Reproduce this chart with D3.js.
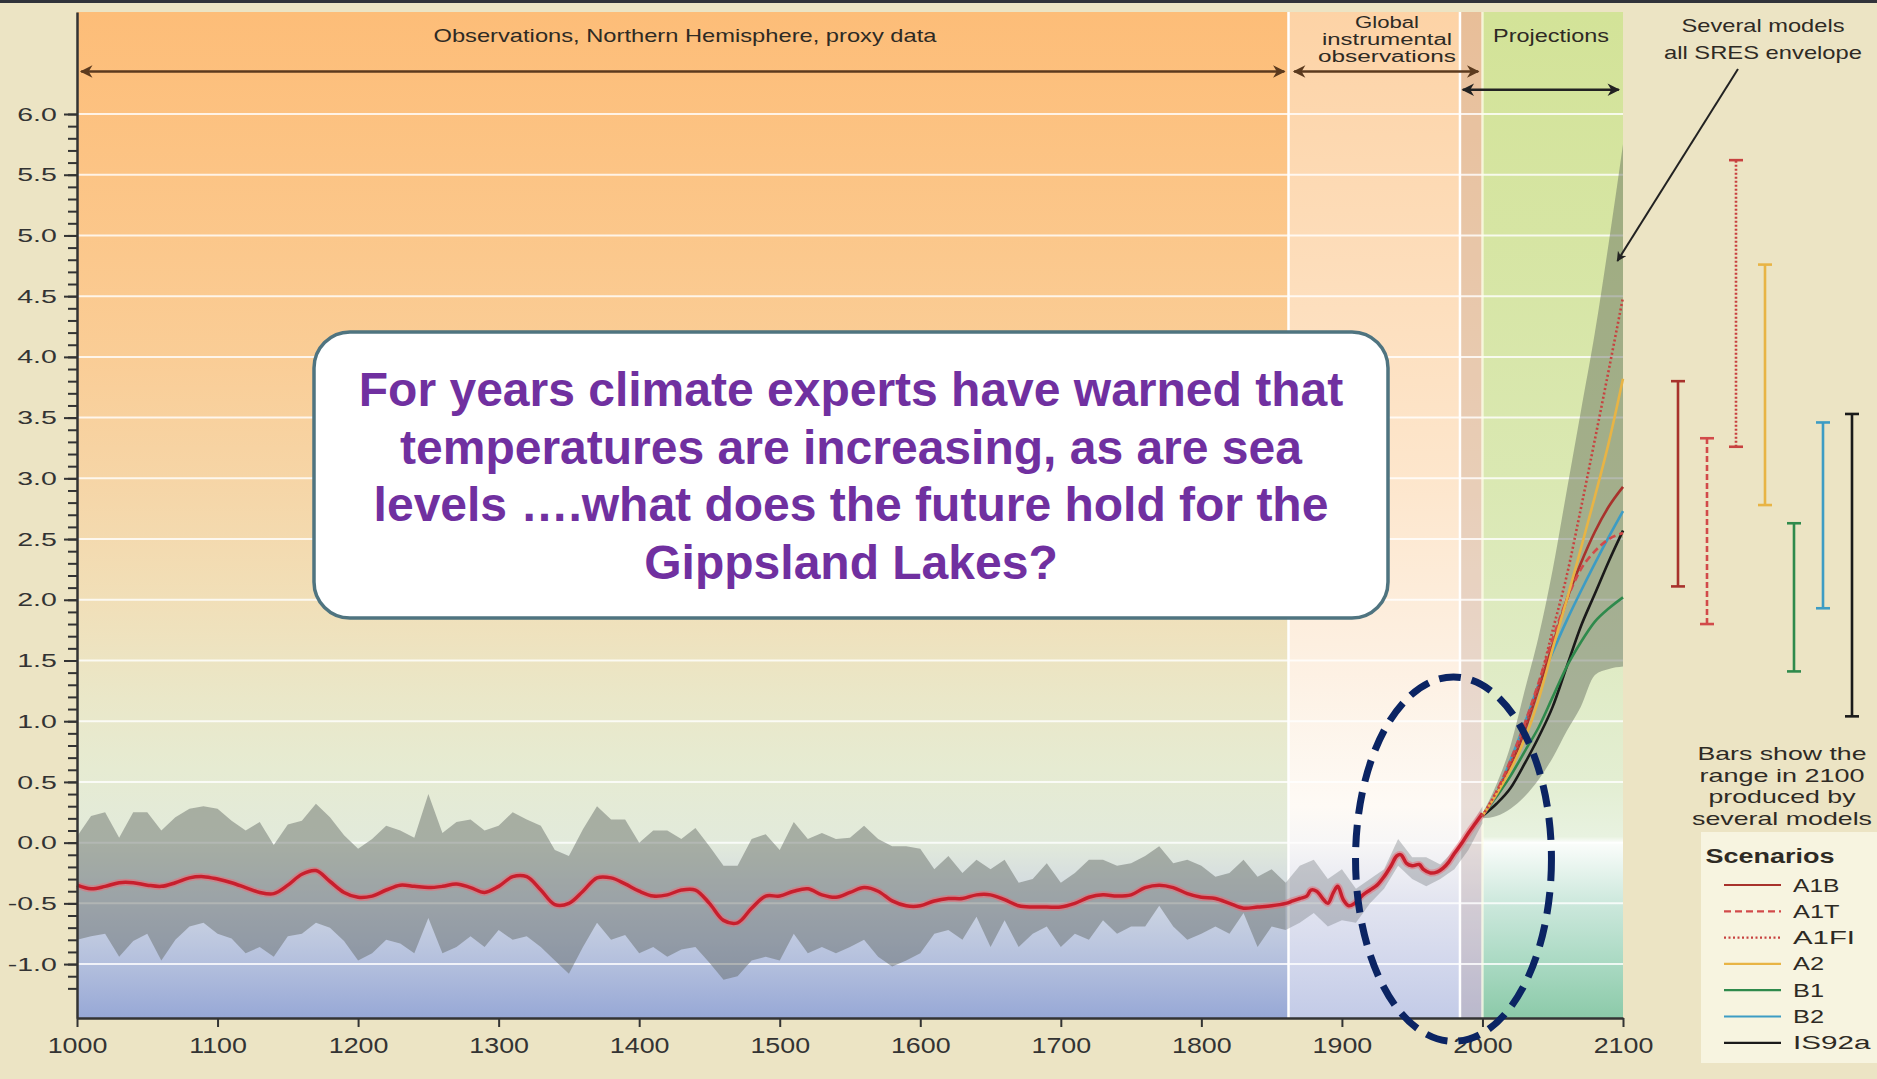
<!DOCTYPE html>
<html>
<head>
<meta charset="utf-8">
<script src="https://cdn.jsdelivr.net/npm/d3@7"></script>
<style>
  body { margin: 0; background: #ece4c4; }
  svg { display: block; font-family: "Liberation Sans", Arial, sans-serif; }
</style>
</head>
<body>
<svg id="chart"></svg>
<script>
// Chart size
var W = 1877, H = 1079;

// ---- data ----
// proxy reconstruction, Northern Hemisphere, every 10 years 1000-1860
var proxyYears = d3.range(1000, 1861, 10);
var proxyMean = [-0.35,-0.38,-0.36,-0.33,-0.33,-0.35,-0.36,-0.33,-0.29,-0.28,
  -0.30,-0.33,-0.37,-0.41,-0.42,-0.35,-0.26,-0.23,-0.32,-0.41,
  -0.45,-0.44,-0.39,-0.35,-0.36,-0.37,-0.36,-0.34,-0.37,-0.41,
  -0.36,-0.28,-0.28,-0.39,-0.51,-0.50,-0.40,-0.29,-0.29,-0.34,
  -0.40,-0.44,-0.43,-0.39,-0.39,-0.50,-0.64,-0.66,-0.54,-0.44,
  -0.44,-0.40,-0.38,-0.43,-0.45,-0.41,-0.37,-0.40,-0.48,-0.52,
  -0.52,-0.48,-0.46,-0.46,-0.43,-0.43,-0.47,-0.52,-0.53,-0.53,
  -0.53,-0.50,-0.45,-0.43,-0.44,-0.43,-0.37,-0.35,-0.37,-0.42,
  -0.45,-0.46,-0.50,-0.54,-0.53,-0.52,-0.50];
var proxyUpper = [0.05,0.22,0.25,0.04,0.25,0.25,0.10,0.21,0.28,0.30,
  0.28,0.18,0.10,0.17,-0.02,0.15,0.18,0.32,0.21,0.06,
  -0.05,0.03,0.14,0.10,0.04,0.40,0.08,0.17,0.19,0.10,
  0.14,0.25,0.19,0.14,-0.06,-0.11,0.11,0.30,0.19,0.19,
  0.00,0.10,0.10,0.03,0.12,-0.03,-0.19,-0.19,0.03,0.07,
  -0.06,0.17,0.03,0.08,0.03,0.04,0.14,0.03,-0.03,-0.03,
  -0.05,-0.22,-0.11,-0.25,-0.14,-0.22,-0.14,-0.33,-0.30,-0.17,
  -0.33,-0.25,-0.14,-0.14,-0.19,-0.17,-0.11,-0.03,-0.17,-0.14,
  -0.19,-0.28,-0.25,-0.14,-0.28,-0.22,-0.33];
var proxyLower = [-0.80,-0.77,-0.75,-0.94,-0.81,-0.75,-0.97,-0.80,-0.69,-0.66,
  -0.75,-0.79,-0.91,-0.86,-0.94,-0.77,-0.75,-0.66,-0.70,-0.81,
  -0.97,-0.91,-0.80,-0.83,-0.91,-0.62,-0.91,-0.86,-0.77,-0.86,
  -0.72,-0.80,-0.77,-0.86,-0.97,-1.08,-0.86,-0.66,-0.80,-0.76,
  -0.91,-0.86,-0.94,-0.88,-0.86,-0.99,-1.13,-1.10,-0.97,-0.94,
  -0.97,-0.75,-0.91,-0.86,-0.91,-0.86,-0.80,-0.94,-1.02,-0.97,
  -0.91,-0.75,-0.72,-0.80,-0.61,-0.86,-0.64,-0.86,-0.75,-0.69,
  -0.86,-0.75,-0.80,-0.64,-0.75,-0.69,-0.69,-0.52,-0.69,-0.80,
  -0.75,-0.69,-0.75,-0.58,-0.86,-0.69,-0.72];

// global instrumental record
var instYears = [1865,1870,1875,1878,1882,1887,1890,1894,1897,1901,1905,1909,1915,1920,1925,
  1930,1935,1939,1942,1946,1950,1955,1958,1963,1968,1972,1976,1980,1985,1990,1995,2000];
var instMean = [-0.48,-0.46,-0.44,-0.39,-0.40,-0.47,-0.50,-0.41,-0.36,-0.47,-0.52,-0.50,-0.43,-0.39,-0.35,
  -0.28,-0.19,-0.11,-0.10,-0.17,-0.19,-0.18,-0.22,-0.25,-0.24,-0.21,-0.16,-0.09,-0.01,0.08,0.16,0.24];
var instBandYears = [1860,1870,1880,1890,1900,1910,1920,1930,1940,1950,1960,1970,1980,1990,2000];
var instUpper = [-0.33,-0.19,-0.14,-0.30,-0.22,-0.38,-0.30,-0.22,0.03,-0.12,-0.12,-0.18,-0.06,0.10,0.30];
var instLower = [-0.72,-0.66,-0.58,-0.69,-0.64,-0.66,-0.50,-0.38,-0.19,-0.30,-0.36,-0.30,-0.22,-0.06,0.16];

// projections 2000-2100
var projYears = [2000,2010,2020,2030,2040,2050,2060,2070,2080,2090,2100];
var envUpper = [0.24,0.48,0.80,1.25,1.70,2.25,2.90,3.55,4.20,4.95,5.75];
var envLower = [0.20,0.22,0.28,0.38,0.52,0.70,0.92,1.12,1.38,1.43,1.45];
var scenarios = ["A1B","A1T","A1FI","A2","B1","B2","IS92a"];
var projA1B  = [0.22,0.40,0.63,0.92,1.27,1.63,2.00,2.30,2.56,2.77,2.93];
var projA1T  = [0.22,0.42,0.68,0.98,1.32,1.68,2.00,2.25,2.40,2.50,2.55];
var projA1FI = [0.22,0.42,0.65,0.95,1.30,1.75,2.20,2.75,3.32,3.90,4.49];
var projA2   = [0.22,0.40,0.60,0.85,1.18,1.60,2.00,2.42,2.85,3.30,3.82];
var projB1   = [0.22,0.38,0.55,0.75,0.95,1.20,1.45,1.65,1.82,1.93,2.02];
var projB2   = [0.22,0.40,0.68,0.98,1.30,1.57,1.83,2.07,2.30,2.52,2.73];
var projIS92a= [0.22,0.32,0.45,0.65,0.87,1.12,1.45,1.78,2.05,2.32,2.57];
// ranges in 2100
var rangeLow  = [2.11,1.80,3.26,2.78,1.41,1.93,1.04];
var rangeHigh = [3.80,3.33,5.62,4.76,2.63,3.46,3.53];

// axis ticks
var xTicks = [1000,1100,1200,1300,1400,1500,1600,1700,1800,1900,2000,2100];
var yTicks = [-1.0,-0.5,0.0,0.5,1.0,1.5,2.0,2.5,3.0,3.5,4.0,4.5,5.0,5.5,6.0];
var yMinor = d3.range(-12, 61).map(function(d) { return d / 10; });

var projSeries = [projA1B, projA1T, projA1FI, projA2, projB1, projB2, projIS92a];
var scenColor = ["#a8322c","#d24a4a","#c8413f","#e8b445","#2f8a4c","#3d9cc4","#1a1a1a"];
var scenDash = [null, "7,4", "2,2.5", null, null, null, null];

// ---- scales ----
var x = d3.scaleLinear().domain([1000, 2100]).range([77, 1623]);
var y = d3.scaleLinear().domain([-1.444, 6.84]).range([1018, 12]);
var xBar = d3.scalePoint().domain(scenarios).range([1678, 1852]);

var svg = d3.select("#chart").attr("width", W).attr("height", H);
var defs = svg.append("defs");

svg.append("rect").attr("width", W).attr("height", H).attr("fill", "#ece4c4");
svg.append("rect").attr("width", W).attr("height", 3).attr("fill", "#30333a");

// vertical gradients for the three periods
var plotTop = y(6.84), plotBottom = y(-1.444);
function gradient(id, stops) {
  var g = defs.append("linearGradient").attr("id", id)
    .attr("gradientUnits", "userSpaceOnUse")
    .attr("x1", 0).attr("x2", 0).attr("y1", plotTop).attr("y2", plotBottom);
  stops.forEach(function(s) {
    g.append("stop").attr("offset", (y(s[0]) - plotTop) / (plotBottom - plotTop)).attr("stop-color", s[1]);
  });
}
gradient("gProxy", [[6.84,"#fdbd78"],[5.5,"#fcc485"],[4.0,"#facd96"],[3.0,"#f6d5a6"],[2.0,"#f1dfb8"],
  [1.2,"#eae7c8"],[0.6,"#e6ebd2"],[0.0,"#e2eadb"],[-0.5,"#cdd5e2"],[-1.0,"#b3bfdd"],[-1.444,"#97a8d6"]]);
gradient("gInst", [[6.84,"#fdd3a6"],[5.0,"#fddcb8"],[3.0,"#fde6cc"],[1.5,"#fdf0e2"],[0.3,"#fefaf5"],
  [0.0,"#f7f6f6"],[-0.5,"#e2e4f0"],[-1.0,"#d2d7ec"],[-1.444,"#c3cbe7"]]);
gradient("gProj", [[6.84,"#d3e398"],[5.0,"#d6e5a3"],[3.0,"#dae8b2"],[1.5,"#dfebc4"],[0.5,"#e3eed2"],
  [0.05,"#e8f2e0"],[0.0,"#fbfdfb"],[-0.5,"#cce8dc"],[-1.0,"#a9d9c2"],[-1.444,"#8ccaa9"]]);

[[1000, 1862, "url(#gProxy)"], [1862, 2000, "url(#gInst)"], [1984, 2000, "rgba(150,110,100,0.2)"], [2000, 2100, "url(#gProj)"]]
  .forEach(function(p) {
    svg.append("rect").attr("x", x(p[0])).attr("y", plotTop)
      .attr("width", x(p[1]) - x(p[0])).attr("height", plotBottom - plotTop).attr("fill", p[2]);
  });

// gridlines
svg.append("g").selectAll("line").data(yTicks).enter().append("line")
  .attr("x1", x(1000)).attr("x2", x(2100))
  .attr("y1", function(d) { return y(d); }).attr("y2", function(d) { return y(d); })
  .attr("stroke", "#fff").attr("stroke-opacity", 0.8).attr("stroke-width", 2);

// period dividers
[[1862, "#fff"], [1984, "#fff"], [2000, "rgba(255,255,235,0.7)"]].forEach(function(p) {
  svg.append("line").attr("x1", x(p[0])).attr("x2", x(p[0])).attr("y1", plotTop).attr("y2", plotBottom)
    .attr("stroke", p[1]).attr("stroke-width", 2.5);
});

// uncertainty bands
var proxyArea = d3.area()
  .x(function(i) { return x(proxyYears[i]); })
  .y0(function(i) { return y(proxyLower[i]); })
  .y1(function(i) { return y(proxyUpper[i]); });
svg.append("path").attr("d", proxyArea(d3.range(proxyYears.length)))
  .attr("fill", "rgb(96,102,97)").attr("fill-opacity", 0.46);

var instArea = d3.area()
  .x(function(i) { return x(instBandYears[i]); })
  .y0(function(i) { return y(instLower[i]); })
  .y1(function(i) { return y(instUpper[i]); });
svg.append("path").attr("d", instArea(d3.range(instBandYears.length)))
  .attr("fill", "rgb(110,116,120)").attr("fill-opacity", 0.35);

var envArea = d3.area().curve(d3.curveMonotoneX)
  .x(function(i) { return x(projYears[i]); })
  .y0(function(i) { return y(envLower[i]); })
  .y1(function(i) { return y(envUpper[i]); });
svg.append("path").attr("d", envArea(d3.range(projYears.length)))
  .attr("fill", "rgb(96,104,92)").attr("fill-opacity", 0.45);

// smoothed mean line 1000-2000
var meanYears = proxyYears.concat(instYears);
var meanVals = proxyMean.concat(instMean);
var meanLine = d3.line().curve(d3.curveCatmullRom.alpha(0.5))
  .x(function(i) { return x(meanYears[i]); })
  .y(function(i) { return y(meanVals[i]); });
var idx = d3.range(meanYears.length);
svg.append("path").attr("d", meanLine(idx)).attr("fill", "none")
  .attr("stroke", "#e8707a").attr("stroke-opacity", 0.55).attr("stroke-width", 7);
svg.append("path").attr("d", meanLine(idx)).attr("fill", "none")
  .attr("stroke", "#c81f2d").attr("stroke-width", 3.5);

// scenario projections
var projLine = d3.line().curve(d3.curveMonotoneX)
  .x(function(d, i) { return x(projYears[i]); })
  .y(function(d) { return y(d); });
var drawOrder = [6, 4, 5, 0, 1, 3, 2];
drawOrder.forEach(function(k) {
  svg.append("path").attr("d", projLine(projSeries[k])).attr("fill", "none")
    .attr("stroke", scenColor[k]).attr("stroke-width", 2.6)
    .attr("stroke-dasharray", scenDash[k]);
});

// ranges in 2100
var bars = svg.append("g").selectAll("g").data(scenarios).enter().append("g");
bars.append("line")
  .attr("x1", function(d) { return xBar(d); }).attr("x2", function(d) { return xBar(d); })
  .attr("y1", function(d, i) { return y(rangeLow[i]); }).attr("y2", function(d, i) { return y(rangeHigh[i]); })
  .attr("stroke", function(d, i) { return scenColor[i]; }).attr("stroke-width", 2.6)
  .attr("stroke-dasharray", function(d, i) { return scenDash[i] ? (i == 1 ? "6,3" : "2,2") : null; });
[rangeLow, rangeHigh].forEach(function(arr) {
  bars.append("line")
    .attr("x1", function(d) { return xBar(d) - 7; }).attr("x2", function(d) { return xBar(d) + 7; })
    .attr("y1", function(d, i) { return y(arr[i]); }).attr("y2", function(d, i) { return y(arr[i]); })
    .attr("stroke", function(d, i) { return scenColor[i]; }).attr("stroke-width", 2.6);
});

// axes
var yAxis = svg.append("g").attr("transform", "translate(" + x(1000) + ",0)")
  .call(d3.axisLeft(y).tickValues(yTicks).tickSize(13).tickSizeOuter(0)
    .tickFormat(function(d) { return d.toFixed(1); }));
yAxis.select(".domain").attr("stroke", "#333").attr("stroke-width", 2.5);
yAxis.selectAll(".tick line").attr("stroke", "#333").attr("stroke-width", 2);
yAxis.selectAll("text").attr("x", -13.5).attr("transform", "scale(1.5,1)")
  .style("font-size", "19px").attr("fill", "#333");
svg.append("g").attr("transform", "translate(" + x(1000) + ",0)")
  .call(d3.axisLeft(y).tickValues(yMinor).tickSize(9).tickFormat(""))
  .call(function(g) { g.select(".domain").remove(); })
  .selectAll("line").attr("stroke", "#333").attr("stroke-width", 2);

var xAxis = svg.append("g").attr("transform", "translate(0," + y(-1.444) + ")")
  .call(d3.axisBottom(x).tickValues(xTicks).tickSize(9).tickSizeOuter(0).tickFormat(d3.format("d")));
xAxis.select(".domain").attr("stroke", "#333").attr("stroke-width", 2.5);
xAxis.selectAll(".tick line").attr("stroke", "#333").attr("stroke-width", 2);
xAxis.selectAll("text").attr("y", 19).attr("transform", "scale(1.22,1)")
  .style("font-size", "22px").attr("fill", "#333");

// period arrows
function marker(id, color) {
  defs.append("marker").attr("id", id).attr("viewBox", "0 0 10 10")
    .attr("refX", 9).attr("refY", 5).attr("markerWidth", 6).attr("markerHeight", 5)
    .attr("orient", "auto-start-reverse")
    .append("path").attr("d", "M0,0 L10,5 L0,10 L3,5 Z").attr("fill", color);
}
marker("ahBrown", "#5b3a1e");
marker("ahBlack", "#222");
[[1003, 1859, 6.35, "#5b3a1e", "ahBrown"], [1866, 1997, 6.35, "#5b3a1e", "ahBrown"], [1986, 2097, 6.2, "#222", "ahBlack"]]
  .forEach(function(a) {
    svg.append("line").attr("x1", x(a[0])).attr("x2", x(a[1])).attr("y1", y(a[2])).attr("y2", y(a[2]))
      .attr("stroke", a[3]).attr("stroke-width", 2.5)
      .attr("marker-start", "url(#" + a[4] + ")").attr("marker-end", "url(#" + a[4] + ")");
  });

// header labels
function label(txt, cx, by, size, len, opts) {
  var t = svg.append("text").attr("x", cx).attr("y", by).attr("text-anchor", "middle")
    .style("font-size", size + "px").attr("fill", "#2e2a24").text(txt);
  if (len) t.attr("textLength", len).attr("lengthAdjust", "spacingAndGlyphs");
  if (opts && opts.bold) t.style("font-weight", "bold");
  return t;
}
label("Observations, Northern Hemisphere, proxy data", 685, 42, 19, 503);
label("Global", 1387, 28, 16, 64);
label("instrumental", 1387, 45, 16, 130);
label("observations", 1387, 62, 16, 138);
label("Projections", 1551, 42, 19, 116);
label("Several models", 1763, 32, 19, 163);
label("all SRES envelope", 1763, 59, 19, 198);

svg.append("line").attr("x1", 1738).attr("y1", 69).attr("x2", x(2096)).attr("y2", y(4.79))
  .attr("stroke", "#222").attr("stroke-width", 2).attr("marker-end", "url(#ahBlack)");

label("Bars show the", 1782, 760, 19, 169);
label("range in 2100", 1782, 782, 19, 165);
label("produced by", 1782, 803, 19, 147);
label("several models", 1782, 825, 19, 180);

// legend
svg.append("rect").attr("x", 1701).attr("y", 832).attr("width", 176).attr("height", 231)
  .attr("fill", "#f8f4e2").attr("fill-opacity", 0.95);
label("Scenarios", 1770, 863, 20, 129, { bold: true });
var leg = svg.append("g").selectAll("g").data(scenarios).enter().append("g")
  .attr("transform", function(d, i) { return "translate(0," + (885 + i * 26.3) + ")"; });
leg.append("line").attr("x1", 1724).attr("x2", 1781)
  .attr("stroke", function(d, i) { return scenColor[i]; }).attr("stroke-width", 2.2)
  .attr("stroke-dasharray", function(d, i) { return scenDash[i]; });
leg.append("text").attr("x", 1793).attr("y", 6.5).style("font-size", "18px").attr("fill", "#2e2a24")
  .attr("textLength", function(d) { return d.length * 15.5; }).attr("lengthAdjust", "spacingAndGlyphs")
  .text(function(d) { return d; });

// callout
svg.append("rect").attr("x", 314).attr("y", 332).attr("width", 1074).attr("height", 286)
  .attr("rx", 36).attr("ry", 36).attr("fill", "#fff").attr("stroke", "#4f7480").attr("stroke-width", 3.5);
var callLines = ["For years climate experts have warned that",
  "temperatures are increasing, as are sea",
  "levels \u2026.what does the future hold for the",
  "Gippsland Lakes?"];
svg.append("g").selectAll("text").data(callLines).enter().append("text")
  .attr("x", 851).attr("y", function(d, i) { return 406 + i * 57.5; })
  .attr("text-anchor", "middle").style("font-size", "48px").style("font-weight", "bold")
  .attr("fill", "#7030a0").text(function(d) { return d; });

// dashed ellipse highlighting the recent rise
var ell = { year: 1979.4, value: -0.136, dYears: 69.7, dValue: 1.5 };
svg.append("ellipse").attr("cx", x(ell.year)).attr("cy", y(ell.value))
  .attr("rx", x(ell.year + ell.dYears) - x(ell.year))
  .attr("ry", y(ell.value - ell.dValue) - y(ell.value))
  .attr("fill", "none").attr("stroke", "#0b2463").attr("stroke-width", 7)
  .attr("stroke-dasharray", "22,11");
</script>
</body>
</html>
